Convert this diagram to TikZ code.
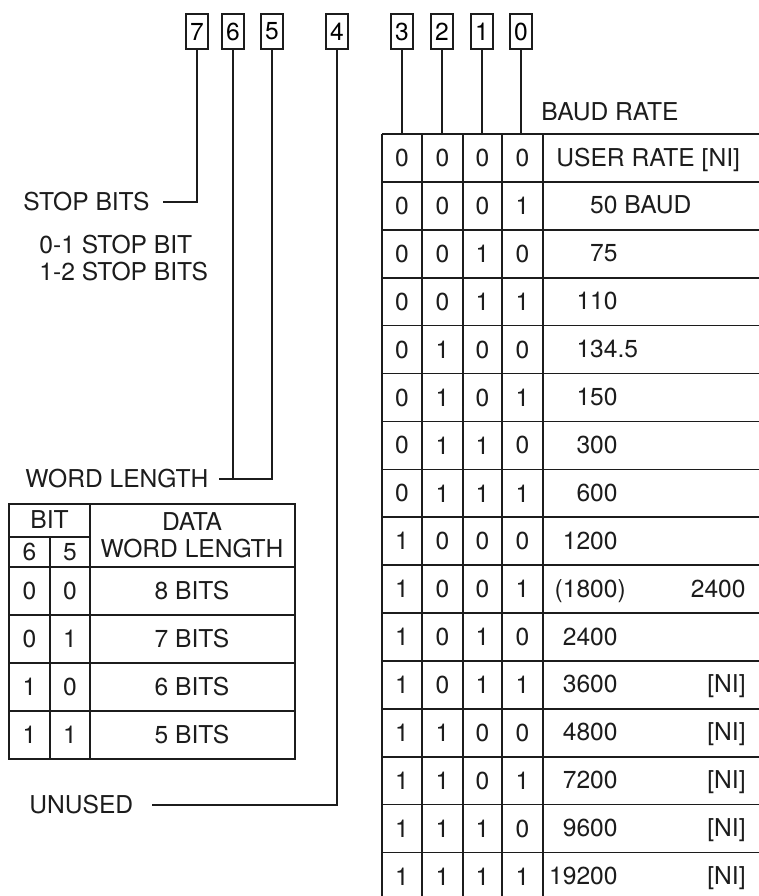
\documentclass[tikz,border=0pt]{standalone}
\usepackage{fontspec}
\setmainfont{TeX Gyre Heros}
\usetikzlibrary{positioning,calc}
\definecolor{ink}{HTML}{1C1C1C}
\tikzset{
  bitbox/.style={draw=ink,line width=0.9pt,minimum width=11pt,minimum height=17.5pt,inner sep=0pt},
  lead/.style={ink,line width=1.4pt},
  rule/.style={ink,line width=0.8pt},
  lbl/.style={inner sep=0pt,text=ink},
}

\begin{document}
\begin{tikzpicture}[x=0.5pt,y=-0.5pt,font=\fontsize{12.3}{13.5}\selectfont]
            \useasboundingbox (0,0) rectangle (759,896);
            \foreach \bit/\x in {7/197,6/233,5/272,4/337,3/402,2/442,1/482,0/521}
              \node[bitbox] (b\bit) at (\x,31.5) {\bit};
            \node[lbl,anchor=west] (lstop) at (23,202) {STOP BITS};
            \node[lbl,anchor=north west,align=left] (lstopval) at (39,235) {0-1 STOP BIT\\1-2 STOP BITS};
            \node[lbl,anchor=west] (lword) at (25,479) {WORD LENGTH};
            \node[lbl,anchor=west] (lunused) at (29,805) {UNUSED};
            \node[lbl,anchor=west] (lbaud) at (541,112) {BAUD RATE};
            \draw[lead] (b7.south) |- ([xshift=6.5pt]lstop.east);
            \draw[lead] (b6.south) |- ([xshift=5pt]lword.east);
            \draw[lead] (b5.south) |- ([xshift=5pt]lword.east);
            \draw[lead] (b4.south) |- ([xshift=9pt]lunused.east);
            \coordinate (ttop) at (382,134);
            \foreach \bit in {3,...,0}
              \draw[lead] (b\bit.south) -- (b\bit.south |- ttop);
            \draw[rule] (9,504) rectangle (295,759);
            \draw[rule] (90,504) -- (90,759);
            \draw[rule] (50,537) -- (50,759);
            \draw[rule] (9,537) -- (90,537);
            \foreach \y in {567,615,663,711}
              \draw[rule] (9,\y) -- (295,\y);
            \node[lbl] (hbit) at (49.5,520) {BIT};
            \node[lbl] (h6) at (29.5,552) {6};
            \node[lbl] (h5) at (70,552) {5};
            \node[lbl,align=center] (hdata) at (192,535) {DATA\\WORD LENGTH};
            \foreach \a/\c/\n [count=\k from 0] in {0/0/8,0/1/7,1/0/6,1/1/5} {
              \node[lbl] (wa\k) at (29.5,{591+48*\k}) {\a};
              \node[lbl] (wb\k) at (70,{591+48*\k}) {\c};
              \node[lbl] (wl\k) at (192,{591+48*\k}) {\n\ BITS};
            }
            \foreach \k in {0,...,15}
              \draw[rule] (382,{134+47.9*\k}) -- (759,{134+47.9*\k});
            \foreach \x in {382,422,463,502,543}
              \draw[rule] (\x,134) -- (\x,896);
            \node[lbl,anchor=base west] (luser) at (556,166) {USER RATE [NI]};
            \foreach \rate/\note [count=\k from 0] in {{}/{},{50\rlap{ BAUD}}/{},
                75/{},110/{},{134\rlap{.5}}/{},150/{},300/{},600/{},1200/{},{(1800\rlap{)}}/2400,
                2400/{},3600/{[NI]},4800/{[NI]},7200/{[NI]},9600/{[NI]},19200/{[NI]}} {
              \pgfmathsetmacro\yc{158+47.9*\k}
              \pgfmathsetmacro\yb{\yc+8}
              \foreach \bit/\x in {3/402,2/442.5,1/482.5,0/522.5} {
                \pgfmathtruncatemacro\v{mod(int(\k/(2^\bit)),2)}
                \node[lbl] (cell\bit-\k) at (\x,\yc) {\v};
              }
              \node[lbl,anchor=base east] (rate\k) at (618,\yb) {\rate};
              \node[lbl,anchor=base east] (note\k) at (746,\yb) {\note};
            }
          \end{tikzpicture}
\end{document}
